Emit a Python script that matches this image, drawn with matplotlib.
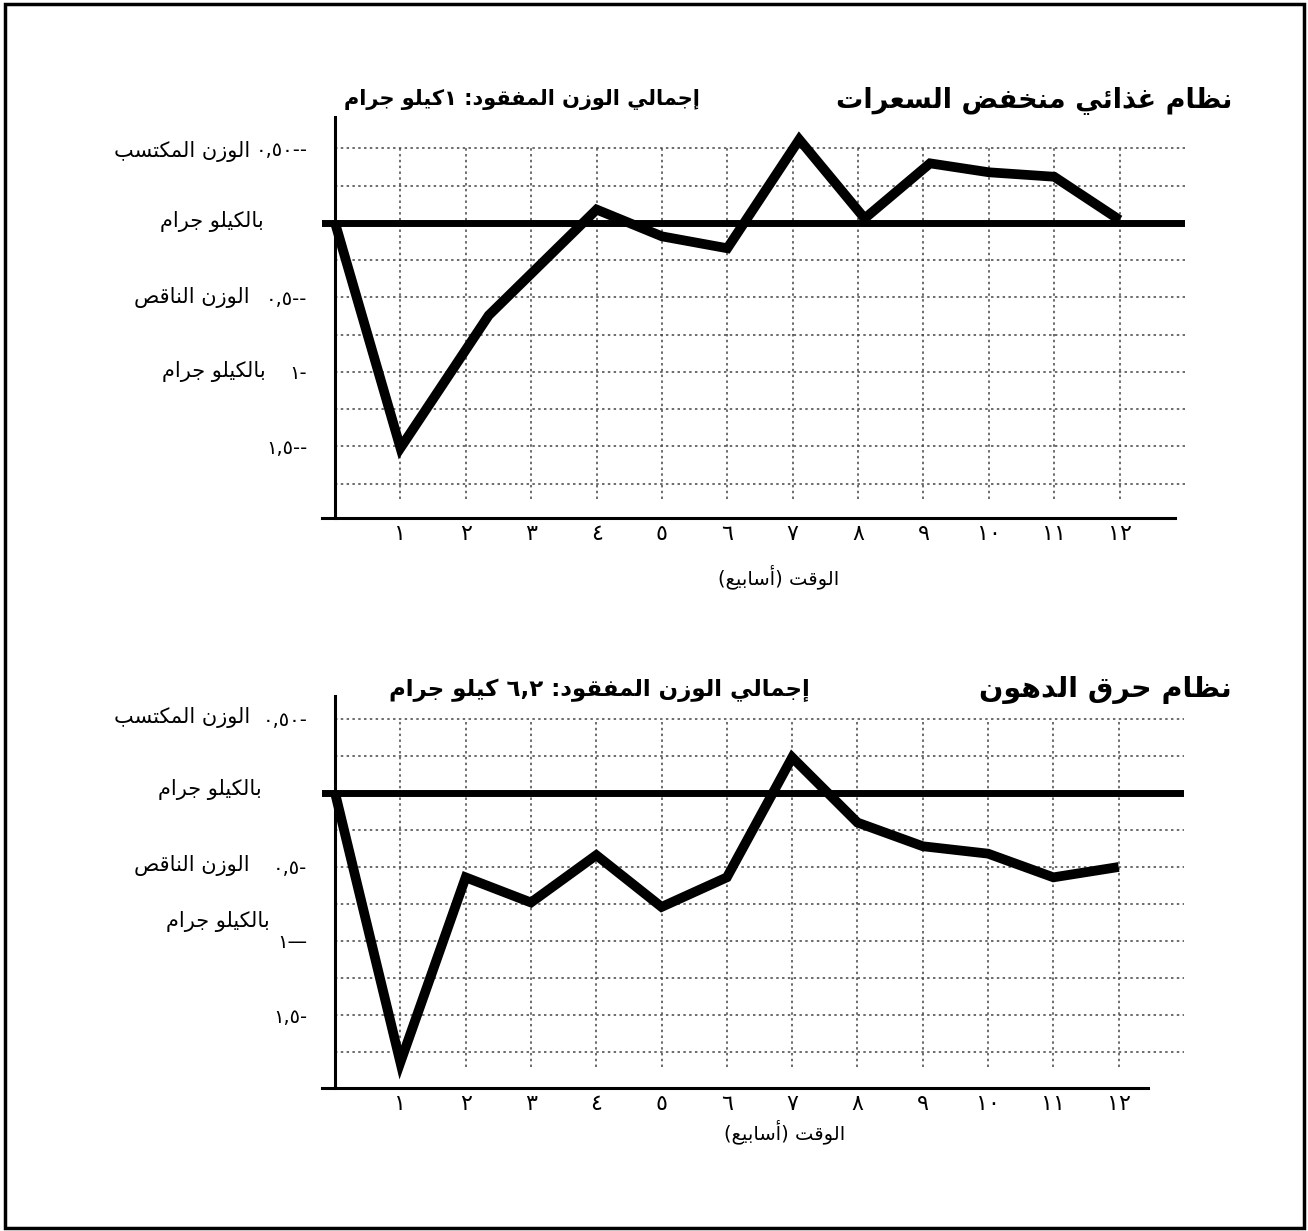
import re
import numpy as np
import matplotlib
matplotlib.use('Agg')
import matplotlib.pyplot as plt
from matplotlib.patches import Rectangle

# ---------------- data ----------------
week_ticks = list(range(1, 13))
week_labels = ['١', '٢', '٣', '٤', '٥', '٦', '٧', '٨', '٩', '١٠', '١١', '١٢']
y_ticks = [0.5, -0.5, -1.0, -1.5]
y_labels_top = ['٠,٥٠--', '٠,٥--', '١-', '١,٥--']
y_labels_bottom = ['٠,٥٠-', '٠,٥-', '١—', '١,٥-']

low_carb_weeks = [0, 1, 2.35, 4, 5, 6, 7.1, 8.1, 9.1, 10, 11, 12]
low_carb_change = [0, -1.51, -0.62, 0.09, -0.09, -0.17, 0.56, 0.03, 0.40, 0.34, 0.31, 0.02]

fat_burn_weeks = [0, 1, 2, 3, 4, 5, 6, 7, 8, 9, 10, 11, 12]
fat_burn_change = [0, -1.82, -0.57, -0.74, -0.42, -0.77, -0.57, 0.24, -0.20, -0.36, -0.41, -0.57, -0.50]

title_top = 'نظام غذائي منخفض السعرات'
sub_top = 'إجمالي الوزن المفقود: ١كيلو جرام'
title_bottom = 'نظام حرق الدهون'
sub_bottom = 'إجمالي الوزن المفقود: ٦,٢ كيلو جرام'
gain_label = 'الوزن المكتسب'
loss_label = 'الوزن الناقص'
unit_label = 'بالكيلو جرام'
x_title = 'الوقت (أسابيع)'

# ---------------- Arabic shaping (presentation forms, visual order) ----------------
DUAL = {'ب': 0xFE8F, 'ت': 0xFE95, 'ث': 0xFE99, 'ج': 0xFE9D, 'ح': 0xFEA1, 'خ': 0xFEA5,
        'س': 0xFEB1, 'ش': 0xFEB5, 'ص': 0xFEB9, 'ض': 0xFEBD, 'ط': 0xFEC1, 'ظ': 0xFEC5,
        'ع': 0xFEC9, 'غ': 0xFECD, 'ف': 0xFED1, 'ق': 0xFED5, 'ك': 0xFED9, 'ل': 0xFEDD,
        'م': 0xFEE1, 'ن': 0xFEE5, 'ه': 0xFEE9, 'ي': 0xFEF1, 'ئ': 0xFE89}
RIGHT = {'ا': 0xFE8D, 'أ': 0xFE83, 'إ': 0xFE87, 'آ': 0xFE81, 'د': 0xFEA9, 'ذ': 0xFEAB,
         'ر': 0xFEAD, 'ز': 0xFEAF, 'و': 0xFEED, 'ى': 0xFEEF, 'ة': 0xFE93, 'ؤ': 0xFE85}
LAMALEF = {'ا': 0xFEFB, 'أ': 0xFEF7, 'إ': 0xFEF9, 'آ': 0xFEF5}


def shape(s):
    items = []
    i = 0
    while i < len(s):
        c = s[i]
        if c == 'ل' and i + 1 < len(s) and s[i + 1] in LAMALEF:
            items.append(('LA', s[i + 1]))
            i += 2
        else:
            items.append((c, None))
            i += 1
    out = []
    for k, (c, extra) in enumerate(items):
        prev = items[k - 1][0] if k > 0 else None
        nxt = items[k + 1][0] if k + 1 < len(items) else None
        jp = prev in DUAL
        if c == 'LA':
            out.append(chr(LAMALEF[extra] + (1 if jp else 0)))
        elif c in DUAL:
            jn = nxt is not None and (nxt in DUAL or nxt in RIGHT or nxt == 'LA')
            idx = {(False, False): 0, (True, False): 1, (False, True): 2, (True, True): 3}[(jp, jn)]
            out.append(chr(DUAL[c] + idx))
        elif c in RIGHT:
            out.append(chr(RIGHT[c] + (1 if jp else 0)))
        else:
            out.append(c)
    return ''.join(out)


def ar(s):
    rev = shape(s)[::-1]
    rev = rev.translate(str.maketrans('()', ')('))
    rev = re.sub(r'[\u0660-\u0669]+(?:[,\u066B][\u0660-\u0669]+)*', lambda m: m.group(0)[::-1], rev)
    return rev


# ---------------- figure ----------------
W, H = 1308, 1231
plt.rcParams['font.family'] = ['DejaVu Sans']
fig = plt.figure(figsize=(W / 100, H / 100), dpi=100)
fig.patch.set_facecolor('white')


def px_axes(left, top, right, bottom):
    return fig.add_axes([left / W, 1 - bottom / H, (right - left) / W, (bottom - top) / H])


def fx(x):
    return x / W


def fy(y):
    return 1 - y / H


def panel(ax, weeks, vals, ylim, ylabels, spine_end):
    ax.set_xlim(-0.2, 13.0)
    ax.set_ylim(*ylim)
    ax.set_facecolor('none')
    for s in ['top', 'right']:
        ax.spines[s].set_visible(False)
    ax.spines['left'].set_position(('data', 0))
    ax.spines['left'].set_linewidth(2.2)
    ax.spines['bottom'].set_linewidth(2.2)
    ax.spines['bottom'].set_bounds(-0.2, spine_end)
    # graph-paper grid
    for gy in np.arange(-1.75, 0.51, 0.25):
        if abs(gy) < 1e-9:
            continue
        ax.plot([0, 13], [gy, gy], color='#444444', lw=1.1, ls=(0, (1.6, 2.2)), zorder=1)
    for gx in week_ticks:
        ax.plot([gx, gx], [-1.85, 0.5], color='#444444', lw=1.1, ls=(0, (1.6, 2.2)), zorder=1)
    ax.axhline(0, color='black', lw=5, zorder=3)
    ax.plot(weeks, vals, color='black', lw=7, solid_joinstyle='miter',
            solid_capstyle='butt', zorder=5)
    ax.set_xticks(week_ticks, week_labels)
    ax.tick_params(axis='x', length=0, pad=4, labelsize=16)
    ax.set_yticks(y_ticks, ylabels)
    ax.tick_params(axis='y', length=0, pad=20, labelsize=14)


# top panel
ax1 = px_axes(322, 117, 1185, 518)
panel(ax1, low_carb_weeks, low_carb_change, (-1.98, 0.711), y_labels_top, 12.85)
# bottom panel
ax2 = px_axes(322, 696, 1184, 1088)
panel(ax2, fat_burn_weeks, fat_burn_change, (-1.993, 0.655), y_labels_bottom, 12.45)

# titles
fig.text(fx(1232), fy(100), ar(title_top), ha='right', va='center', fontsize=19.5, fontweight='bold')
fig.text(fx(700), fy(100), ar(sub_top), ha='right', va='center', fontsize=15, fontweight='bold')
fig.text(fx(1232), fy(690), ar(title_bottom), ha='right', va='center', fontsize=20.5, fontweight='bold')
fig.text(fx(810), fy(690), ar(sub_bottom), ha='right', va='center', fontsize=16.5, fontweight='bold')

# side labels
side_fs = 15
for (txt, x, y) in [(gain_label, 250, 152), (unit_label, 264, 222), (loss_label, 250, 297), (unit_label, 266, 372),
                    (gain_label, 250, 718), (unit_label, 262, 790), (loss_label, 250, 866), (unit_label, 270, 922)]:
    fig.text(fx(x), fy(y), ar(txt), ha='right', va='center', fontsize=side_fs)

# x titles
fig.text(fx(779), fy(577), ar(x_title), ha='center', va='center', fontsize=14)
fig.text(fx(785), fy(1132), ar(x_title), ha='center', va='center', fontsize=14)

# outer frame
fig.add_artist(Rectangle((fx(5), fy(1228)), fx(1304) - fx(5), fy(4) - fy(1228),
                         transform=fig.transFigure, fill=False, lw=2.5, edgecolor='black'))

fig.savefig('out.png', dpi=100, facecolor='white')
